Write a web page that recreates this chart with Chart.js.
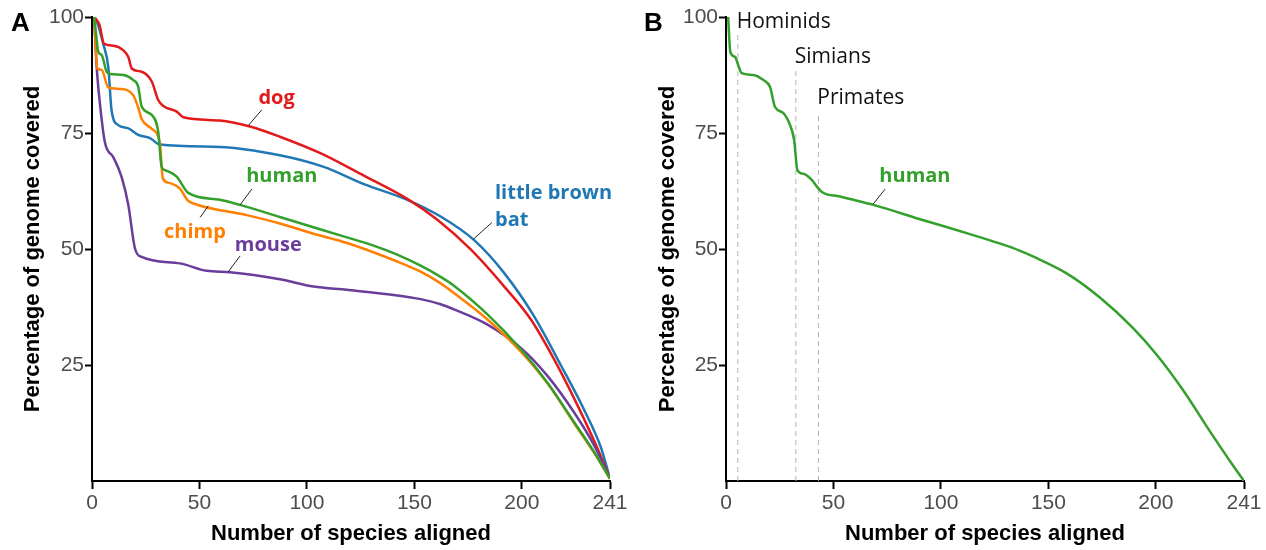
<!DOCTYPE html>
<html>
<head>
<meta charset="utf-8">
<script src="https://cdn.jsdelivr.net/npm/chart.js"></script>
<style>
  html, body { margin: 0; padding: 0; background: #fff; }
  .panel { position: absolute; top: 0; width: 633px; height: 550px; }
  #panelA { left: 0; }
  #panelB { left: 633px; }
</style>
</head>
<body>
<div class="panel" id="panelA"><canvas id="chartA" width="633" height="550"></canvas></div>
<div class="panel" id="panelB"><canvas id="chartB" width="633" height="550"></canvas></div>
<script>
// axis ticks
const xTicks = [0, 50, 100, 150, 200, 241];
const yTicks = [25, 50, 75, 100];

// panel A: percentage of genome covered vs number of species aligned
const dogX = [1, 3.5, 5.5, 9.9, 14.6, 16.9, 18.5, 23.1, 27.8, 30.8, 33.2, 39.4, 42.5, 59.5, 73.5, 87.4, 106, 126.5, 146.7, 160.7, 176.2, 191.8, 204.2, 215, 226, 235.3, 241];
const dogY = [100, 98.3, 94.3, 93.8, 92.8, 91.4, 88.9, 88.2, 86.1, 82.1, 80.8, 79.6, 78.4, 77.7, 76.4, 74.2, 70.7, 65.8, 60.8, 56.3, 49.9, 41.9, 34.8, 26.2, 16.2, 6.9, 0.5];

const batX = [1, 2.2, 5.3, 7.6, 9.1, 12.2, 16.9, 21.5, 27, 31.6, 59.5, 87.4, 107.8, 126.5, 146.7, 162.2, 177.8, 191.8, 205.7, 218.2, 229, 236.8, 241];
const batY = [100, 99.1, 94.1, 89.1, 79.9, 76.7, 76.0, 74.6, 73.9, 72.5, 72.0, 70.2, 67.7, 64.0, 60.6, 57.0, 51.9, 44.8, 35.5, 24.9, 15.3, 7.2, 0.5];

const humanX = [1, 1.9, 2.9, 4.5, 6.8, 8.4, 14.6, 19.2, 21.5, 23.1, 27.8, 30.8, 32.4, 34, 39.4, 44.8, 59.5, 68.8, 87.4, 118.6, 130, 142, 152.9, 162.2, 168.4, 184, 199.5, 212, 224.4, 233.7, 241];
const humanY = [100, 96.3, 92.5, 91.8, 88.2, 87.7, 87.5, 86.4, 85.0, 80.7, 78.9, 75.3, 67.7, 67.0, 65.6, 62.1, 60.6, 59.5, 56.9, 52.5, 50.9, 48.8, 46.4, 44.0, 42.1, 35.9, 28.4, 21.1, 12.6, 6.2, 0.5];

const chimpX = [1, 2.5, 4.5, 7.6, 13, 19.2, 21.5, 23.1, 27.8, 31.6, 32.9, 35.5, 40.9, 44.5, 47.9, 72, 87.4, 103, 118.7, 142, 152.9, 162.2, 168.4, 184, 199.5, 212, 224.4, 233.7, 241];
const chimpY = [100, 88.9, 88.6, 84.8, 84.5, 83.1, 80.5, 78.0, 75.9, 72.7, 65.3, 64.3, 63.0, 60.5, 59.7, 57.3, 55.5, 53.3, 51.3, 47.3, 45.1, 42.6, 40.5, 34.8, 27.9, 21.0, 12.4, 6.0, 0.5];

const mouseX = [1, 2.2, 3.7, 6, 9.9, 13.8, 16.9, 20, 23.1, 40.9, 53.3, 64.2, 87.4, 103, 118.5, 142, 152.9, 162.2, 168.4, 184, 199.5, 212, 224.4, 233.7, 241];
const mouseY = [100, 89.1, 81.3, 73.0, 69.8, 65.5, 59.5, 50.1, 48.3, 46.9, 45.3, 45.0, 43.5, 41.9, 41.2, 40.0, 39.2, 38.1, 37.0, 33.7, 28.7, 22.6, 14.7, 7.6, 0.5];

// panel B: human only, with clade boundaries
const humanBX = [1, 2, 4.2, 5.7, 7.3, 12.7, 17.4, 20.5, 22.8, 26.7, 29.8, 31.7, 33.2, 36, 39.9, 42.2, 44.6, 53, 59.3, 68.6, 91.9, 115, 127.3, 136.9, 142.8, 158.3, 173.8, 189.3, 200.2, 212.6, 225, 235.8, 241];
const humanBY = [100, 92.5, 91.4, 89.6, 87.9, 87.5, 86.4, 84.9, 80.6, 79.3, 76.7, 73.5, 67.0, 66.2, 64.9, 63.5, 62.3, 61.3, 60.6, 59.5, 56.2, 53.0, 51.2, 49.6, 48.4, 44.8, 39.6, 33.0, 27.3, 19.6, 10.8, 3.4, 0];

const cladeNames = ['Hominids', 'Simians', 'Primates'];
const cladeX = [5.5, 32.5, 43];
const cladeTop = [96.6, 88.6, 78.9];

const COLORS = {
  dog: '#e31a1c', bat: '#1f78b4', human: '#33a02c', chimp: '#ff7f00', mouse: '#6a3d9a'
};

const pts = (xs, ys) => xs.map((x, i) => ({x: x, y: ys[i]}));

function curve(xs, ys, color) {
  return {
    data: pts(xs, ys),
    borderColor: color,
    borderWidth: 2.5,
    pointRadius: 0,
    fill: false,
    cubicInterpolationMode: 'monotone'
  };
}

const tickFont = {family: '"Liberation Sans", Arial, sans-serif', size: 21};
const titleFont = {family: '"Liberation Sans", Arial, sans-serif', size: 22, weight: 'bold', lineHeight: 1.2};

function scales(yTitlePad) {
  return {
    x: {
      type: 'linear', min: 0, max: 241,
      afterFit: s => { s.height = 69; },
      afterBuildTicks: s => { s.ticks = xTicks.map(v => ({value: v})); },
      ticks: {font: tickFont, color: '#4d4d4d', padding: 2, maxRotation: 0, autoSkip: false},
      grid: {drawOnChartArea: false, drawTicks: true, tickLength: 8, tickWidth: 2, tickColor: '#000'},
      border: {display: true, color: '#000', width: 2},
      title: {display: true, text: 'Number of species aligned', font: titleFont, color: '#000', padding: {top: 0, bottom: 3}}
    },
    y: {
      type: 'linear', min: 0, max: 100,
      afterFit: s => { s.width = 92; },
      afterBuildTicks: s => { s.ticks = yTicks.map(v => ({value: v})); },
      ticks: {font: tickFont, color: '#4d4d4d', padding: 1, autoSkip: false},
      grid: {drawOnChartArea: false, drawTicks: true, tickLength: 7, tickWidth: 2, tickColor: '#000'},
      border: {display: true, color: '#000', width: 2},
      title: {display: true, text: 'Percentage of genome covered', font: titleFont, color: '#000', padding: {top: yTitlePad, bottom: 0}}
    }
  };
}

// text notes placed in data space, leaders as [x1, y1, x2, y2]
function notesPlugin(letter, notes) {
  return {
    id: 'notes',
    afterDraw(chart) {
      const {ctx, scales: {x, y}} = chart;
      ctx.save();
      ctx.font = 'bold 26px "Liberation Sans", Arial, sans-serif';
      ctx.fillStyle = '#000';
      ctx.textAlign = 'left';
      ctx.textBaseline = 'middle';
      ctx.fillText(letter, 11, 24);
      notes.forEach(n => {
        if (n.leader) {
          ctx.strokeStyle = '#222';
          ctx.lineWidth = 1;
          ctx.beginPath();
          ctx.moveTo(x.getPixelForValue(n.leader[0]), y.getPixelForValue(n.leader[1]));
          ctx.lineTo(x.getPixelForValue(n.leader[2]), y.getPixelForValue(n.leader[3]));
          ctx.stroke();
        }
        ctx.font = (n.bold ? 'bold ' : '') + n.size + 'px "Open Sans", sans-serif';
        ctx.fillStyle = n.color;
        ctx.textAlign = n.align || 'center';
        ctx.fillText(n.text, x.getPixelForValue(n.x), y.getPixelForValue(n.y));
      });
      ctx.restore();
    }
  };
}

const notesA = [
  {text: 'dog', x: 85.9, y: 82.5, color: COLORS.dog, bold: true, size: 20, leader: [79, 80, 72.7, 76.6]},
  {text: 'human', x: 88.3, y: 65.6, color: COLORS.human, bold: true, size: 20, leader: [74.3, 62.9, 68.9, 59.5]},
  {text: 'chimp', x: 47.9, y: 53.7, color: COLORS.chimp, bold: true, size: 20, leader: [54.1, 59.3, 50.3, 56.8]},
  {text: 'mouse', x: 82, y: 50.9, color: COLORS.mouse, bold: true, size: 20, leader: [68.9, 48.5, 63.4, 45.1]},
  {text: 'little brown', x: 187.5, y: 62.0, color: COLORS.bat, bold: true, size: 20, align: 'left'},
  {text: 'bat', x: 187.5, y: 56.25, color: COLORS.bat, bold: true, size: 20, align: 'left', leader: [186, 55.7, 177.4, 52.1]}
];

const notesB = [
  {text: 'human', x: 87.9, y: 65.6, color: COLORS.human, bold: true, size: 20, leader: [74, 62.9, 68.5, 59.7]}
].concat(cladeNames.map((name, i) => ({
  text: name, x: cladeX[i] - 0.5, y: [99, 91.4, 82.5][i], color: '#111', bold: false, size: 21, align: 'left'
})));

new Chart(document.getElementById('chartA'), {
  type: 'line',
  data: {
    datasets: [
      curve(humanX, humanY, COLORS.human),
      curve(chimpX, chimpY, COLORS.chimp),
      curve(mouseX, mouseY, COLORS.mouse),
      curve(dogX, dogY, COLORS.dog),
      curve(batX, batY, COLORS.bat)
    ]
  },
  options: {
    responsive: false,
    animation: false,
    devicePixelRatio: 1,
    layout: {padding: {top: 17, right: 23, bottom: 0, left: 0}},
    plugins: {legend: {display: false}, tooltip: {enabled: false}},
    scales: scales(20)
  },
  plugins: [notesPlugin('A', notesA)]
});

const cladeSets = cladeX.map((cx, i) => ({
  data: [{x: cx, y: 0}, {x: cx, y: cladeTop[i]}],
  borderColor: '#b3b3b3',
  borderWidth: 1,
  borderDash: [5, 4],
  pointRadius: 0,
  fill: false
}));

const scalesB = scales(22);
scalesB.y.afterFit = s => { s.width = 93; };

new Chart(document.getElementById('chartB'), {
  type: 'line',
  data: {
    datasets: [curve(humanBX, humanBY, COLORS.human)].concat(cladeSets)
  },
  options: {
    responsive: false,
    animation: false,
    devicePixelRatio: 1,
    layout: {padding: {top: 17, right: 22, bottom: 0, left: 0}},
    plugins: {legend: {display: false}, tooltip: {enabled: false}},
    scales: scalesB
  },
  plugins: [notesPlugin('B', notesB)]
});
</script>
</body>
</html>
